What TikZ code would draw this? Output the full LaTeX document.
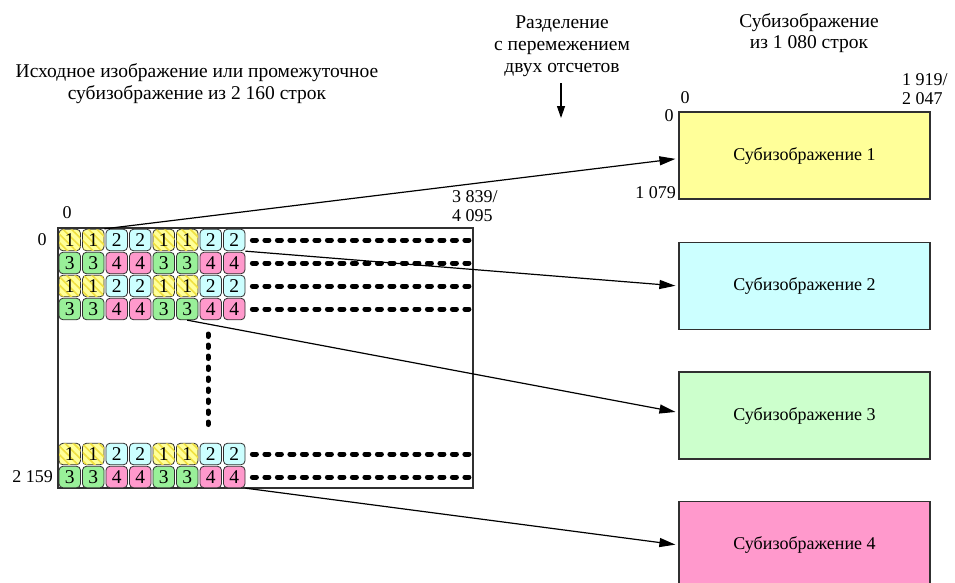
\documentclass[tikz,border=0pt]{standalone}
\usepackage{fontspec}
\setmainfont{Liberation Serif}
\usetikzlibrary{arrows.meta, calc, patterns.meta}
\definecolor{subAmarillo}{HTML}{FFFF99}
\definecolor{subCian}{HTML}{CCFFFF}
\definecolor{subVerde}{HTML}{CCFFCC}
\definecolor{subRosa}{HTML}{FF99CC}
\definecolor{rayaAmarilla}{HTML}{F0E040}
\definecolor{celdaVerde}{HTML}{99F099}
\definecolor{bordeGris}{HTML}{303030}

\begin{document}
\begin{tikzpicture}[x=1pt, y=-1pt,
    font=\fontsize{18}{21.5}\selectfont,
    celda/.style={draw=bordeGris, rounded corners=4pt, line width=0.8pt,
                  minimum width=21.5pt, minimum height=21.5pt, inner sep=0pt,
                  font=\fontsize{19.5}{20}\selectfont},
    celda1/.style={celda, fill=subAmarillo,
                   postaction={pattern={Lines[angle=-45, distance=6pt, line width=1.6pt]},
                               pattern color=rayaAmarilla}},
    celda2/.style={celda, fill=subCian},
    celda3/.style={celda, fill=celdaVerde},
    celda4/.style={celda, fill=subRosa},
    caja/.style={draw=bordeGris, line width=1.2pt, minimum width=251pt,
                 minimum height=87pt, inner sep=0pt},
    num/.style={inner sep=0pt, align=left, font=\fontsize{18}{19.5}\selectfont},
    titulo/.style={inner sep=0pt, align=center, font=\fontsize{19.5}{21.8}\selectfont},
    fl/.style={-{Triangle[length=16pt, width=9pt]}, line width=1.2pt, shorten >=3pt},
    puntos/.style={line width=5pt, line cap=round, dash pattern=on 4pt off 8.5pt},
    vpuntos/.style={line width=5pt, line cap=round, dash pattern=on 2.5pt off 8.5pt}]
    \clip (0,0) rectangle (955,582);

    % titulos
    \node[titulo] (fuenteTit) at (197,84) {Исходное изображение или промежуточное\\субизображение из 2 160 строк};
    \node[titulo] (sep) at (562,46.5) {Разделение\\с перемежением\\двух отсчетов};
    \node[titulo] (subTit) at (809,33) {Субизображение\\из 1 080 строк};
    \coordinate (sepIni) at (561,83);
    \coordinate (sepFin) at (561,118);
    \draw[-{Triangle[length=12pt, width=8pt]}, line width=1.2pt] (sepIni) -- (sepFin);

    % imagen de origen
    \node[draw=bordeGris, line width=1.2pt, minimum width=415pt, minimum height=260pt,
          inner sep=0pt] (fuente) at (265.5,358) {};
    \foreach \r/\y/\t in {1/240/0, 2/263/2, 3/286/0, 4/309/2, 5/454/0, 6/477/2}
      \foreach \c in {1,...,8} {
        \pgfmathtruncatemacro\n{mod(int((\c-1)/2),2)+1+\t}
        \node[celda\n] (r\r c\c) at ({69.75+23.5*(\c-1)},\y) {\n};
      }
    \foreach \r in {1,...,6}
      \draw[puntos] ([xshift=7pt]r\r c8.east) -- ([xshift=-2pt]r\r c8.east -| fuente.east);
    \coordinate (vIni) at (208,334);
    \coordinate (vFin) at (208,430);
    \draw[vpuntos] (vIni) -- (vFin);

    \node[num] at (67,213) {0};
    \node[num, anchor=west] at (452,206) {3 839/\\4 095};
    \node[num] at (42,240) {0};
    \node[num, anchor=east] at (53,477) {2 159};

    % subimagenes
    \node[caja, fill=subAmarillo] (sub1) at (804.5,155.5) {Субизображение 1};
    \node[caja, fill=subCian]     (sub2) at (804.5,286)   {Субизображение 2};
    \node[caja, fill=subVerde]    (sub3) at (804.5,415.5) {Субизображение 3};
    \node[caja, fill=subRosa]     (sub4) at (804.5,545)   {Субизображение 4};

    \node[num] at (685,98) {0};
    \node[num, anchor=west] at (902,89) {1 919/\\2 047};
    \node[num] at (669,116) {0};
    \node[num, anchor=east] at (676,193) {1 079};

    \draw[fl] (r1c2.north east) -- ([yshift=-3pt]sub1.west);
    \draw[fl] (r1c8.south east) -- (sub2.west);
    \draw[fl] (r4c6.south) -- ([yshift=3pt]sub3.west);
    \draw[fl] (r6c8.south east) -- (sub4.west);
\end{tikzpicture}
\end{document}
